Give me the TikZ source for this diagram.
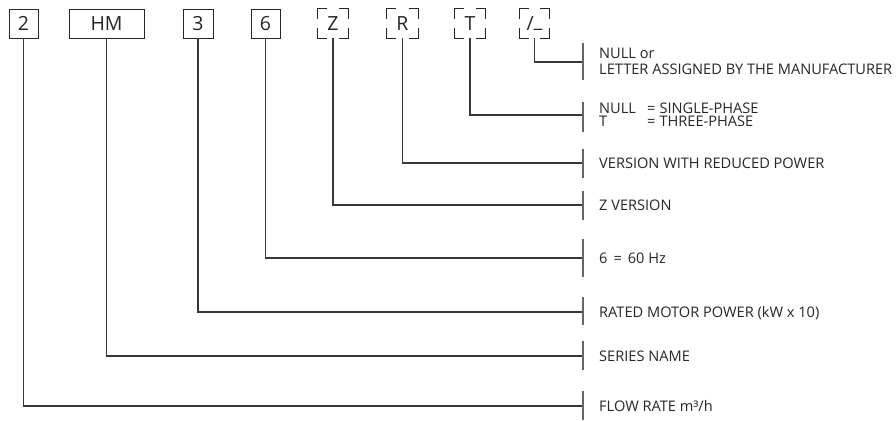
\documentclass[tikz,border=0pt]{standalone}
\usepackage{fontspec}
\setmainfont{Open Sans}
\begin{document}
\begin{tikzpicture}[x=1pt,y=-1pt,
  box/.style={minimum height=29pt, inner sep=0pt, font=\fontsize{19.5}{20}\selectfont, text=black!85},
  solidbox/.style={box, draw=black!85, line width=0.9pt},
  boxline/.style={draw=black!85, line width=0.9pt},
  conn/.style={draw=black!78, line width=1.2pt},
  tick/.style={draw=black!60, line width=1.4pt},
  lbl/.style={anchor=base west, inner sep=0pt, font=\fontsize{14.6}{16}\selectfont, text=black!85}]
\useasboundingbox (0,0) rectangle (896,420);
\newcommand{\cornerbox}[1]{%
  \draw[boxline] ([yshift=-10pt]#1.north west) |- ([xshift=9pt]#1.north west);
  \draw[boxline] ([xshift=-9pt]#1.north east) -| ([yshift=-10pt]#1.north east);
  \draw[boxline] ([yshift=10pt]#1.south east) |- ([xshift=-9pt]#1.south east);
  \draw[boxline] ([xshift=9pt]#1.south west) -| ([yshift=10pt]#1.south west);}
% boxes
\node[solidbox, minimum width=29pt] (b2) at (23.5,23.5) {2};
\node[solidbox, minimum width=75pt] (bhm) at (106.5,23.5) {HM};
\node[solidbox, minimum width=30pt] (b3) at (198,23.5) {3};
\node[solidbox, minimum width=29pt] (b6) at (265.5,23.5) {6};
\node[box, minimum width=30pt] (bz) at (333,23.5) {Z};
\node[box, minimum width=31pt] (br) at (402.5,23.5) {R};
\node[box, minimum width=30pt] (bt) at (470,23.5) {T};
\node[box, minimum width=29pt] (bs) at (534.5,23.5) {/\raisebox{2.5pt}{\_}};
\cornerbox{bz}\cornerbox{br}\cornerbox{bt}\cornerbox{bs}
% connector ends
\coordinate (es) at (583,62);
\coordinate (et) at (583,115);
\coordinate (er) at (583,163);
\coordinate (ez) at (583,205);
\coordinate (e6) at (583,258);
\coordinate (e3) at (583,312);
\coordinate (ehm) at (583,356);
\coordinate (e2) at (583,406);
\draw[conn] (bs.south) |- (es);
\draw[conn] (bt.south) |- (et);
\draw[conn] (br.south) |- (er);
\draw[conn] (bz.south) |- (ez);
\draw[conn] (b6.south) |- (e6);
\draw[conn] (b3.south) |- (e3);
\draw[conn] (bhm.south) |- (ehm);
\draw[conn] (b2.south) |- (e2);
% ticks
\coordinate (ts1) at (583,43); \coordinate (ts2) at (583,80);
\coordinate (tt1) at (583,102); \coordinate (tt2) at (583,132);
\coordinate (tr1) at (583,149); \coordinate (tr2) at (583,178);
\coordinate (tz1) at (583,191); \coordinate (tz2) at (583,220);
\coordinate (t61) at (583,239); \coordinate (t62) at (583,277);
\coordinate (t31) at (583,297); \coordinate (t32) at (583,325);
\coordinate (thm1) at (583,341); \coordinate (thm2) at (583,370);
\coordinate (t21) at (583,391); \coordinate (t22) at (583,420);
\draw[tick] (ts1) -- (ts2);
\draw[tick] (tt1) -- (tt2);
\draw[tick] (tr1) -- (tr2);
\draw[tick] (tz1) -- (tz2);
\draw[tick] (t61) -- (t62);
\draw[tick] (t31) -- (t32);
\draw[tick] (thm1) -- (thm2);
\draw[tick] (t21) -- (t22);
% labels
\node[lbl] (l1a) at (599,58.3) {NULL or};
\node[lbl] (l1b) at (599,74.3) {LETTER ASSIGNED BY THE MANUFACTURER};
\node[lbl] (l2a) at (599,113.3) {NULL};
\node[lbl] (l2b) at (647,113.3) {=\hspace{4pt}SINGLE-PHASE};
\node[lbl] (l2c) at (599,126.3) {T};
\node[lbl] (l2d) at (647,126.3) {=\hspace{4pt}THREE-PHASE};
\node[lbl] (l3) at (599,168.3) {VERSION WITH REDUCED POWER};
\node[lbl] (l4) at (599,210.3) {Z VERSION};
\node[lbl] (l5) at (599,263.3) {6\hspace{6pt}=\hspace{6pt}60 Hz};
\node[lbl] (l6) at (599,317.3) {RATED MOTOR POWER (kW x 10)};
\node[lbl] (l7) at (599,361.3) {SERIES NAME};
\node[lbl] (l8) at (599,411.3) {FLOW RATE m³/h};
\end{tikzpicture}
\end{document}
